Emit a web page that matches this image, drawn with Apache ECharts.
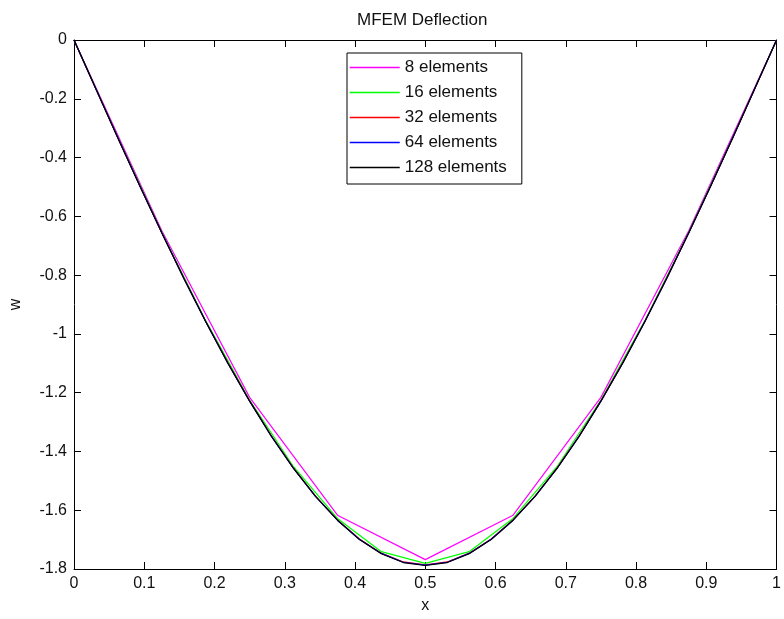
<!DOCTYPE html>
<html>
<head>
<meta charset="utf-8">
<script src="https://cdn.jsdelivr.net/npm/echarts@6/dist/echarts.min.js"></script>
<style>
html,body{margin:0;padding:0;background:#fff;}
#chart{width:784px;height:619px;}
</style>
</head>
<body>
<div id="chart"></div>
<script>
var seriesNames = ['8 elements', '16 elements', '32 elements', '64 elements', '128 elements'];
var seriesColors = ['#FF00FF', '#00FF00', '#FF0000', '#0000FF', '#000000'];
var xTicks = [0, 0.1, 0.2, 0.3, 0.4, 0.5, 0.6, 0.7, 0.8, 0.9, 1];
var yTicks = [-1.8, -1.6, -1.4, -1.2, -1, -0.8, -0.6, -0.4, -0.2, 0];

var x8 = [0, 0.125, 0.25, 0.375, 0.5, 0.625, 0.75, 0.875, 1];
var w8 = [0, -0.649, -1.216, -1.617, -1.768, -1.617, -1.216, -0.649, 0];

var x16 = [0, 0.0625, 0.125, 0.1875, 0.25, 0.3125, 0.375, 0.4375, 0.5,
           0.5625, 0.625, 0.6875, 0.75, 0.8125, 0.875, 0.9375, 1];
var w16 = [0, -0.332, -0.654, -0.955, -1.225, -1.452, -1.628, -1.741, -1.781,
           -1.741, -1.628, -1.452, -1.225, -0.955, -0.654, -0.332, 0];

var x32 = [0, 0.03125, 0.0625, 0.09375, 0.125, 0.15625, 0.1875, 0.21875, 0.25,
           0.28125, 0.3125, 0.34375, 0.375, 0.40625, 0.4375, 0.46875, 0.5,
           0.53125, 0.5625, 0.59375, 0.625, 0.65625, 0.6875, 0.71875, 0.75,
           0.78125, 0.8125, 0.84375, 0.875, 0.90625, 0.9375, 0.96875, 1];
var w32 = [0, -0.167, -0.333, -0.497, -0.656, -0.810, -0.958, -1.097, -1.228,
           -1.348, -1.457, -1.552, -1.633, -1.698, -1.746, -1.776, -1.786,
           -1.776, -1.746, -1.698, -1.633, -1.552, -1.457, -1.348, -1.228,
           -1.097, -0.958, -0.810, -0.656, -0.497, -0.333, -0.167, 0];
var w64 = [0, -0.167, -0.333, -0.497, -0.656, -0.811, -0.958, -1.098, -1.229,
           -1.349, -1.458, -1.553, -1.634, -1.699, -1.747, -1.777, -1.787,
           -1.777, -1.747, -1.699, -1.634, -1.553, -1.458, -1.349, -1.229,
           -1.098, -0.958, -0.811, -0.656, -0.497, -0.333, -0.167, 0];
var w128 = [0, -0.167, -0.334, -0.497, -0.657, -0.811, -0.959, -1.099, -1.229,
            -1.350, -1.458, -1.553, -1.634, -1.700, -1.748, -1.778, -1.788,
            -1.778, -1.748, -1.700, -1.634, -1.553, -1.458, -1.350, -1.229,
            -1.099, -0.959, -0.811, -0.657, -0.497, -0.334, -0.167, 0];

function pairs(xs, ys) {
  var out = [];
  for (var i = 0; i < xs.length; i++) out.push([xs[i], ys[i]]);
  return out;
}
function fmt(v) {
  var r = parseFloat(Number(v).toFixed(1));
  if (r === 0) r = 0;
  return String(r);
}

var FONT = '"Liberation Sans", Arial, Helvetica, sans-serif';
var dataSets = [pairs(x8, w8), pairs(x16, w16), pairs(x32, w32), pairs(x32, w64), pairs(x32, w128)];

var chart = echarts.init(document.getElementById('chart'), null, {renderer: 'canvas'});

var xStep = xTicks[1] - xTicks[0];
var yStep = 0.2;

var axisCommon = {
  axisLine: {show: true, onZero: false, lineStyle: {color: '#000', width: 1}},
  axisTick: {show: true, inside: true, length: 7, lineStyle: {color: '#000', width: 1}},
  splitLine: {show: false}
};

var option = {
  backgroundColor: '#fff',
  animation: false,
  grid: {left: 70, right: 5, top: 40, bottom: 46, containLabel: false},
  graphic: [{
    type: 'text',
    left: 357,
    top: 12,
    style: {text: 'MFEM Deflection', font: '17px ' + FONT, fill: '#111'}
  }],
  legend: {
    show: true,
    orient: 'vertical',
    left: 347,
    top: 53,
    itemWidth: 50,
    itemHeight: 17,
    itemGap: 8,
    padding: [6, 15, 8, 2],
    backgroundColor: '#fff',
    borderColor: '#000',
    borderWidth: 1,
    itemStyle: {opacity: 0},
    textStyle: {fontFamily: FONT, fontSize: 17, color: '#111', lineHeight: 17},
    data: seriesNames.map(function (n, i) {
      return {name: n, lineStyle: {color: seriesColors[i], width: 1.5, opacity: 1}};
    })
  },
  xAxis: [
    Object.assign({
      type: 'value', min: xTicks[0], max: xTicks[xTicks.length - 1], interval: xStep,
      position: 'bottom',
      name: 'x', nameLocation: 'middle', nameGap: 29,
      nameTextStyle: {fontFamily: FONT, fontSize: 16, color: '#111'},
      axisLabel: {fontFamily: FONT, fontSize: 16, color: '#111', margin: 7, formatter: fmt}
    }, axisCommon),
    Object.assign({
      type: 'value', min: xTicks[0], max: xTicks[xTicks.length - 1], interval: xStep,
      position: 'top', axisLabel: {show: false}
    }, axisCommon)
  ],
  yAxis: [
    Object.assign({
      type: 'value', min: yTicks[0], max: yTicks[yTicks.length - 1], interval: yStep,
      position: 'left',
      name: 'w', nameLocation: 'middle', nameGap: 50, nameRotate: 90,
      nameTextStyle: {fontFamily: FONT, fontSize: 16, color: '#111'},
      axisLabel: {fontFamily: FONT, fontSize: 16, color: '#111', margin: 7, formatter: fmt}
    }, axisCommon),
    Object.assign({
      type: 'value', min: yTicks[0], max: yTicks[yTicks.length - 1], interval: yStep,
      position: 'right', axisLabel: {show: false}
    }, axisCommon)
  ],
  series: seriesNames.map(function (name, i) {
    return {
      name: name,
      type: 'line',
      xAxisIndex: 0,
      yAxisIndex: 0,
      data: dataSets[i],
      symbol: 'none',
      smooth: false,
      color: seriesColors[i],
      lineStyle: {color: seriesColors[i], width: 1.2},
      z: 2 + i
    };
  })
};

chart.setOption(option);
</script>
</body>
</html>
